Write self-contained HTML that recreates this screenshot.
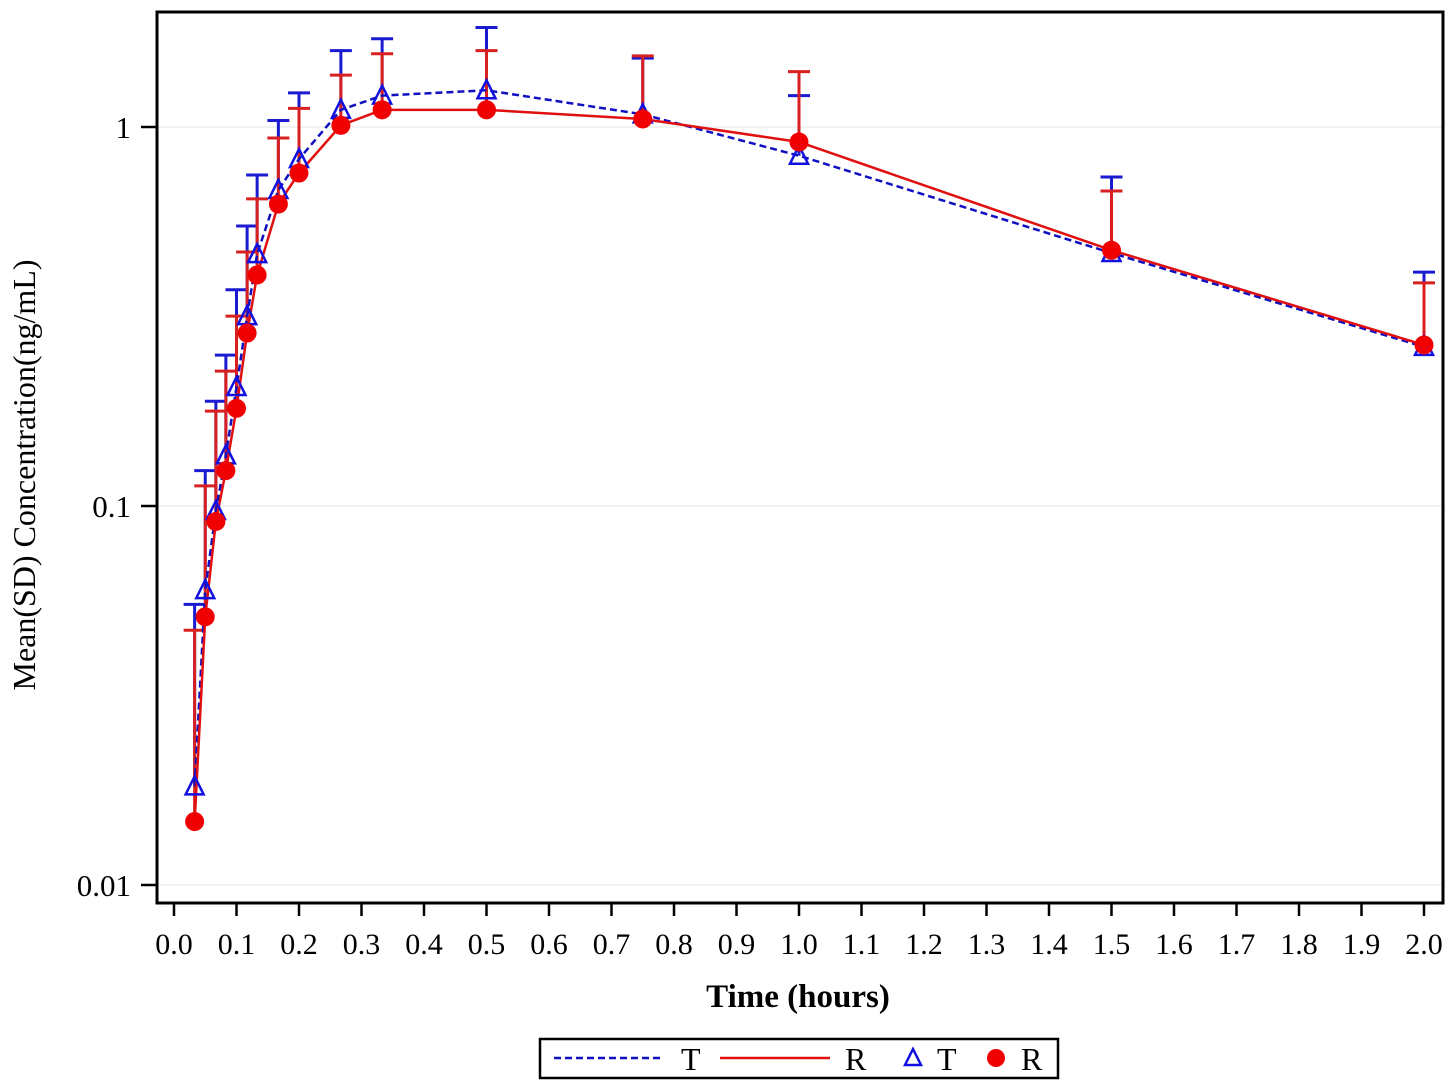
<!DOCTYPE html>
<html><head><meta charset="utf-8"><style>
html,body{margin:0;padding:0;background:#fff;}
svg{display:block;font-family:"Liberation Serif",serif;}
</style></head><body>
<svg id="chart" width="1450" height="1087" viewBox="0 0 1450 1087">
<g id="grid"></g>
<g id="series"></g>
<rect x="157" y="12" width="1286" height="891" fill="none" stroke="#000" stroke-width="3"/>
<g id="axes"></g>
<text x="24" y="475" transform="rotate(-90 24 475)" text-anchor="middle" dominant-baseline="central" font-size="32">Mean(SD) Concentration(ng/mL)</text>
<text x="798" y="1007" text-anchor="middle" font-size="33" font-weight="bold">Time (hours)</text>
<g>
<rect x="540" y="1039" width="518" height="39" fill="#fff" stroke="#000" stroke-width="2.5"/>
<line x1="554" y1="1058" x2="662" y2="1058" stroke="#1010c0" stroke-width="2.5" stroke-dasharray="7,4"/>
<text x="681" y="1070" font-size="32">T</text>
<line x1="720" y1="1058" x2="830" y2="1058" stroke="#e01010" stroke-width="2.5"/>
<text x="845" y="1070" font-size="32">R</text>
<polygon points="913,1049 905,1065 921,1065" fill="none" stroke="#1010e0" stroke-width="2.5"/>
<text x="937" y="1070" font-size="32">T</text>
<circle cx="996" cy="1058" r="9" fill="#f00000"/>
<text x="1021" y="1070" font-size="32">R</text>
</g>
</svg>
<script>
const times = [0.033,0.05,0.067,0.083,0.1,0.117,0.133,0.167,0.2,0.267,0.333,0.5,0.75,1.0,1.5,2.0];
const tMean = [0.0182,0.060,0.097,0.136,0.206,0.317,0.462,0.682,0.823,1.11,1.21,1.25,1.08,0.84,0.465,0.263];
const tUpper = [0.055,0.124,0.189,0.25,0.372,0.548,0.747,1.04,1.23,1.59,1.71,1.83,1.52,1.21,0.738,0.414];
const rMean = [0.0147,0.051,0.091,0.124,0.181,0.286,0.407,0.626,0.756,1.01,1.11,1.11,1.05,0.913,0.473,0.266];
const rUpper = [0.047,0.113,0.178,0.227,0.317,0.468,0.646,0.935,1.12,1.37,1.56,1.59,1.54,1.40,0.678,0.388];
const xTicks = ["0.0","0.1","0.2","0.3","0.4","0.5","0.6","0.7","0.8","0.9","1.0","1.1","1.2","1.3","1.4","1.5","1.6","1.7","1.8","1.9","2.0"];
const yTicks = [1,0.1,0.01];
const yTickLabels = ["1","0.1","0.01"];

const NS='http://www.w3.org/2000/svg';
function xs(t){return 174+t*625;}
function ys(v){return 127-Math.log10(v)*379;}
function mk(tag,attrs,parent){const e=document.createElementNS(NS,tag);for(const k in attrs)e.setAttribute(k,attrs[k]);parent.appendChild(e);return e;}
const grid=document.getElementById('grid'),axes=document.getElementById('axes'),ser=document.getElementById('series');

yTicks.forEach((v,i)=>{
  const y=ys(v);
  const g=mk('line',{x1:158,x2:1442,y1:y,y2:y,stroke:'#e4e4e4','stroke-width':1},grid);
  
  
  const tk=mk('line',{x1:141,x2:157,y1:y,y2:y,stroke:'#000','stroke-width':2.5},axes);
  
  
  const tx=mk('text',{x:131,y:y+11,'text-anchor':'end','font-size':31},axes);
  tx.textContent=yTickLabels[i];
  
  
});
xTicks.forEach(s=>{
  const x=xs(parseFloat(s));
  const tk=mk('line',{x1:x,x2:x,y1:903,y2:916,stroke:'#000','stroke-width':2.5},axes);
  
  
  const tx=mk('text',{x:x,y:954,'text-anchor':'middle','font-size':30},axes);
  tx.textContent=s;
  
  
});

function bars(mean,upper,color,name){
  times.forEach((t,i)=>{
    const x=xs(t),y0=ys(mean[i]),y1=ys(upper[i]);
    const v=mk('line',{x1:x,x2:x,y1:y0,y2:y1,stroke:color,'stroke-width':3},ser);
    
    
    const c=mk('line',{x1:x-11,x2:x+11,y1:y1,y2:y1,stroke:color,'stroke-width':3},ser);
    
    
  });
}
bars(tMean,tUpper,'#1a1ad0','t');
bars(rMean,rUpper,'#d82020','r');

const tp=mk('polyline',{points:times.map((t,i)=>xs(t)+','+ys(tMean[i])).join(' '),fill:'none',stroke:'#1010c0','stroke-width':2.5,'stroke-dasharray':'7,4'},ser);


const rp=mk('polyline',{points:times.map((t,i)=>xs(t)+','+ys(rMean[i])).join(' '),fill:'none',stroke:'#e01010','stroke-width':2.5},ser);



times.forEach((t,i)=>{
  const x=xs(t),y=ys(tMean[i]);
  const p=mk('polygon',{points:`${x},${y-10} ${x-9},${y+8} ${x+9},${y+8}`,fill:'none',stroke:'#1010e0','stroke-width':2.5},ser);
  
  
});
times.forEach((t,i)=>{
  const c=mk('circle',{cx:xs(t),cy:ys(rMean[i]),r:9.5,fill:'#f00000'},ser);
  
  
});
</script>
</body></html>
